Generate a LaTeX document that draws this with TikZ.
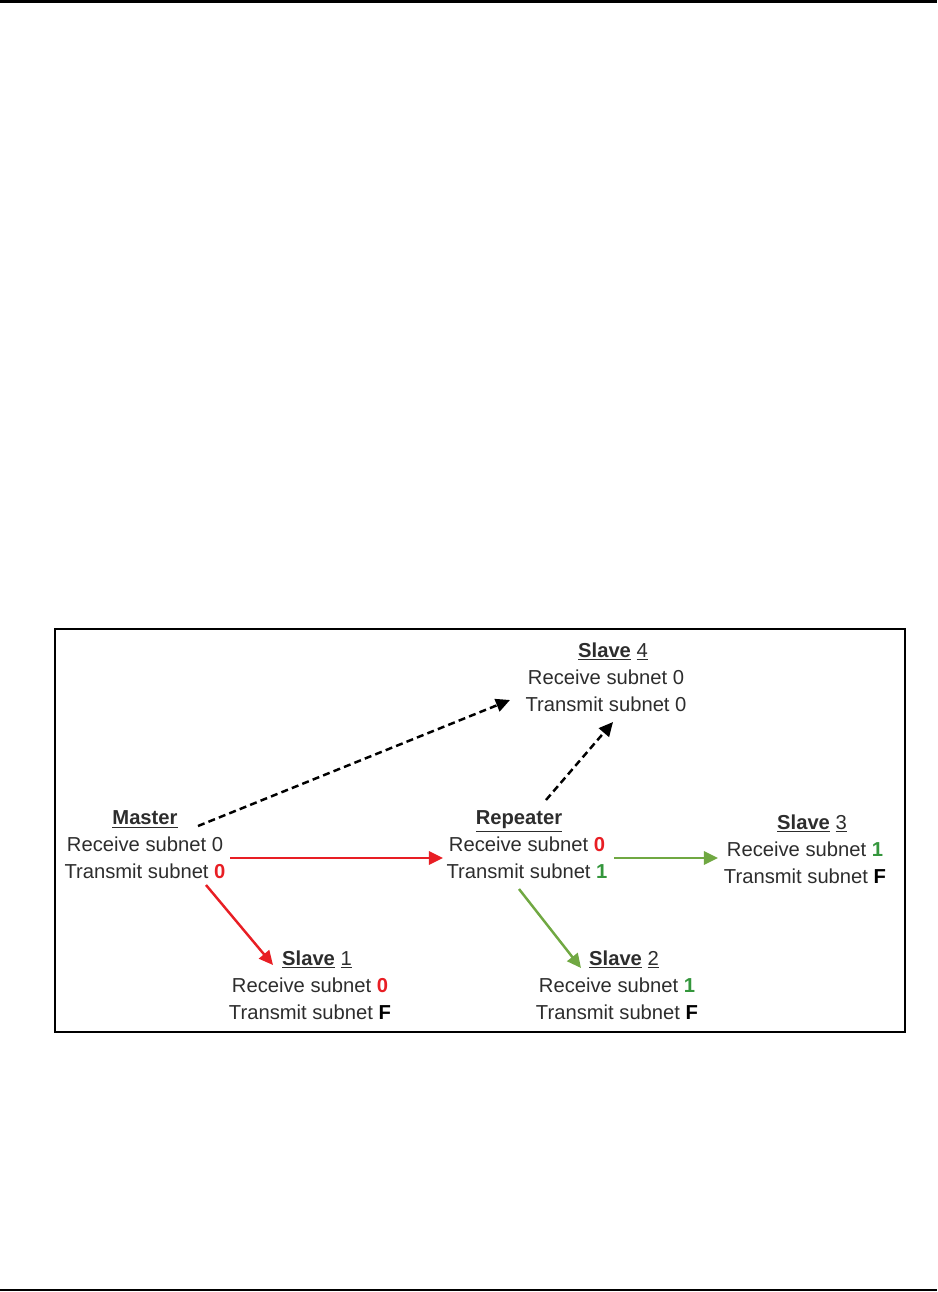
\documentclass[tikz,border=0pt]{standalone}
\usepackage{fontspec}
\setmainfont{Liberation Sans}
\usetikzlibrary{arrows.meta, positioning, calc}
\usepackage{xcolor}
\definecolor{textgray}{RGB}{45, 45, 45}
\definecolor{linkred}{RGB}{232, 30, 36}
\definecolor{linkgreen}{RGB}{112, 168, 66}
\definecolor{digitgreen}{RGB}{52, 150, 60}
\newcommand{\rd}[1]{\textbf{\textcolor{linkred}{#1}}}
\newcommand{\gn}[1]{\textbf{\textcolor{digitgreen}{#1}}}
\newcommand{\bk}[1]{\textbf{\textcolor{black}{#1}}}
\newcommand{\slavetitle}[1]{\hspace*{0.28cm}\underline{\textbf{Slave}}~\underline{#1}}

\begin{document}
\begin{tikzpicture}[
  x=0.02cm, y=-0.02cm,
  device/.style={
    inner sep=0pt, align=center, text=textgray,
    font=\fontsize{11.5}{15.4}\selectfont
  },
  frame/.style={draw=black, line width=1.1pt},
  dashlink/.style={-{Triangle[length=8pt, width=7.5pt]}, line width=1.4pt,
    draw=black, dash pattern=on 4pt off 2.4pt},
  redlink/.style={-{Triangle[length=8pt, width=7.5pt]}, line width=1.4pt, draw=linkred},
  greenlink/.style={-{Triangle[length=8pt, width=7.5pt]}, line width=1.4pt, draw=linkgreen},
]
\useasboundingbox (0,0) rectangle (937,1292);

%% Page rules
\draw[line width=1.8pt] (0,1) -- (937,1);
\draw[line width=0.7pt] (0,1290) -- (937,1290);

%% Frame
\draw[frame] (55,629) rectangle (905,1032);

%% Devices
\node[device] (master)   at (145,845) {\underline{\textbf{Master}}\\Receive subnet 0\\Transmit subnet \rd{0}};
\node[device] (repeater) at (527,845) {\underline{\textbf{Repeater}}\hspace*{0.32cm}\\Receive subnet \rd{0}\\Transmit subnet \gn{1}};
\node[device] (slave4)   at (606,677) {\slavetitle{4}\\Receive subnet 0\\Transmit subnet 0};
\node[device] (slave3)   at (805,849) {\slavetitle{3}\\Receive subnet \gn{1}\\Transmit subnet \bk{F}};
\node[device] (slave1)   at (310,985) {\slavetitle{1}\\Receive subnet \rd{0}\\Transmit subnet \bk{F}};
\node[device] (slave2)   at (617,985) {\slavetitle{2}\\Receive subnet \gn{1}\\Transmit subnet \bk{F}};

%% Links
% dashed paths to Slave 4
\draw[dashlink] ($(master)+(53,-19)$) -- ($(slave4)+(-96,23)$);
\draw[dashlink] ($(repeater)+(19,-45)$) -- ($(slave4)+(7,45)$);
% subnet 0
\draw[redlink] ($(master)+(85,13)$) -- ($(repeater)+(-84,13)$);
\draw[redlink] ($(master)+(61,40)$) -- ($(slave1)+(-37,-20)$);
% subnet 1
\draw[greenlink] ($(repeater)+(87,13)$) -- ($(slave3)+(-87,9)$);
\draw[greenlink] ($(repeater)+(-8,44)$) -- ($(slave2)+(-36,-17)$);

\end{tikzpicture}
\end{document}
